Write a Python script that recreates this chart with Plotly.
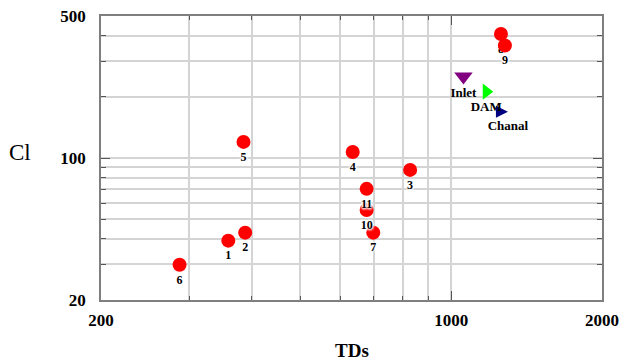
import numpy as np
import plotly.graph_objects as go

# Water samples: total dissolved solids vs chloride
sample_ids = ["1", "2", "3", "4", "5", "6", "7", "8", "9", "10", "11"]
sample_tds = [359, 388, 828, 636, 385, 287, 699, 1257, 1280, 678, 678]
sample_cl = [39.2, 42.9, 87.4, 107, 120, 29.8, 42.9, 408, 358, 55.5, 70.5]

# Reference sources
source_names = ["Inlet", "DAM", "Chanal"]
source_tds = [1058, 1175, 1298]
source_cl = [252, 212, 169]

# Axis ticks
x_ticks = [200, 1000, 2000]
x_minor = [300, 400, 500, 600, 700, 800, 900]
y_ticks = [20, 100, 500]
y_minor = [30, 40, 50, 60, 70, 80, 90, 200, 300, 400]

SERIF = "Times New Roman, Liberation Serif, serif"
source_symbols = ["triangle-down", "triangle-right", "arrow-right"]
source_colors = ["#800080", "#00ff00", "#000080"]
source_sizes = [16, 14, 12]

tds = np.array(sample_tds)
cl = np.array(sample_cl)
ids = np.array(sample_ids)
top_mask = ids == "9"
base_mask = ~top_mask

# white halo so labels sit on a clean background
halo = ", ".join(["0px 0px 3px #fff"] * 6)
label_font = dict(family=SERIF, size=12, color="black", weight="bold", shadow=halo)

fig = go.Figure()
for mask in (base_mask, top_mask):
    fig.add_trace(go.Scatter(
        x=tds[mask], y=cl[mask], text=ids[mask],
        mode="markers+text", textposition="bottom center",
        marker=dict(color="#ff0000", size=14, line=dict(width=0)),
        textfont=label_font, showlegend=False, cliponaxis=False,
    ))

fig.add_trace(go.Scatter(
    x=source_tds, y=source_cl, text=source_names,
    mode="markers+text", textposition="bottom center",
    marker=dict(symbol=source_symbols, color=source_colors,
                size=source_sizes, line=dict(width=0), opacity=1),
    textfont=dict(family=SERIF, size=13, color="black", weight="bold"),
    showlegend=False, cliponaxis=False,
))

grid_color = "#d4d4d4"
axis_common = dict(
    type="log", tickmode="array", ticks="inside", ticklen=9, tickwidth=1.2,
    tickcolor="#555555", showline=True, linecolor="#7f7f7f", linewidth=1.5,
    mirror="allticks", showgrid=True, gridcolor=grid_color, gridwidth=1.5,
    zeroline=False, automargin=False,
    tickfont=dict(family=SERIF, size=17, color="black", weight="bold"),
)

fig.update_xaxes(
    **axis_common,
    range=[np.log10(200), np.log10(2000)],
    tickvals=x_ticks, ticktext=[str(v) for v in x_ticks],
    ticklabelstandoff=4,
    minor=dict(tickvals=x_minor, ticks="inside", ticklen=4, tickcolor="#555555",
               showgrid=True, gridcolor=grid_color, gridwidth=1.5),
)
fig.update_yaxes(
    **axis_common,
    range=[np.log10(20), np.log10(500)],
    tickvals=y_ticks, ticktext=[str(v) for v in y_ticks],
    ticklabelstandoff=10,
    minor=dict(tickvals=y_minor, ticks="inside", ticklen=5, tickcolor="#555555",
               showgrid=True, gridcolor=grid_color, gridwidth=1.5),
)

fig.add_annotation(text="Cl", xref="paper", yref="paper", x=-0.162, y=0.518,
                   showarrow=False, xanchor="center", yanchor="middle",
                   font=dict(family=SERIF, size=23, color="black"))
fig.add_annotation(text="TDs", xref="paper", yref="paper", x=0.5, y=-0.178,
                   showarrow=False, xanchor="center", yanchor="middle",
                   font=dict(family=SERIF, size=19, color="black", weight="bold"))

fig.update_layout(
    width=621, height=364, autosize=False,
    margin=dict(l=101, r=19, t=16, b=64),
    paper_bgcolor="white", plot_bgcolor="white",
)

fig.write_html("out.html")
